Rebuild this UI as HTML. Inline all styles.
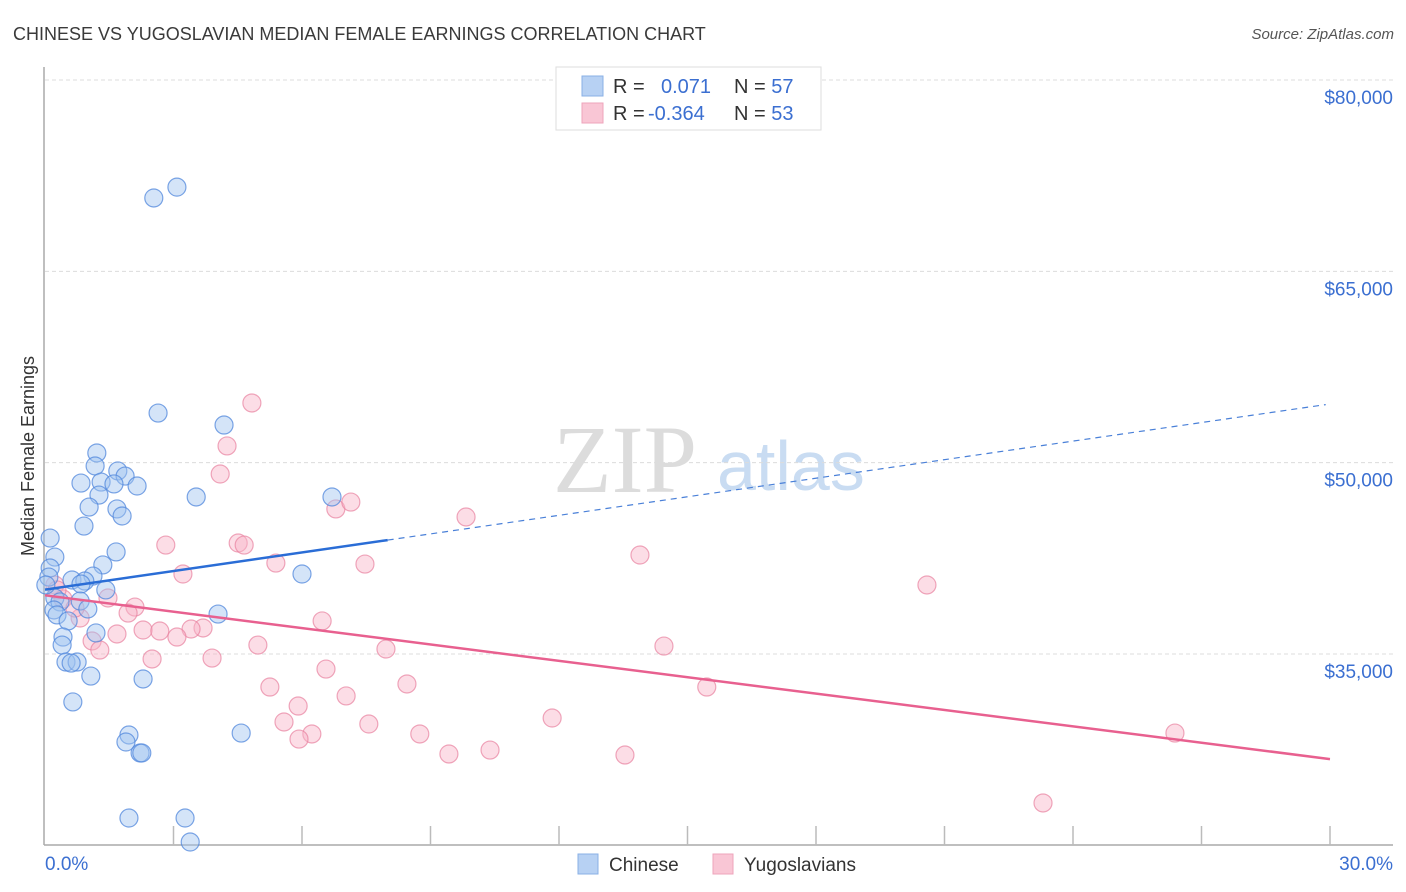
<!DOCTYPE html>
<html><head><meta charset="utf-8"><style>
body{margin:0;background:#fff;font-family:"Liberation Sans",sans-serif;}
svg{display:block}
</style></head><body>
<svg id="chart" width="1406" height="892" xmlns="http://www.w3.org/2000/svg">
<text x="13" y="40" font-size="18" fill="#3a3a3a">CHINESE VS YUGOSLAVIAN MEDIAN FEMALE EARNINGS CORRELATION CHART</text>
<text x="1394" y="39" font-size="15" fill="#555" font-style="italic" text-anchor="end">Source: ZipAtlas.com</text>
<g>
<text x="553" y="492" font-size="96" font-family="Liberation Serif, serif" fill="#dcdcdc">ZIP</text>
<text x="717" y="490" font-size="70" fill="#c9dcf2">atlas</text>
</g>
<g id="grid"></g>
<g id="axes"></g>
<g id="marks"></g>
<text transform="translate(34,456) rotate(-90)" font-size="18" fill="#333" text-anchor="middle">Median Female Earnings</text>
<g>
<rect x="556" y="67" width="265" height="63" fill="#fff" stroke="#ddd"/>
<rect x="582" y="76" width="21" height="20" fill="#b7d1f3" stroke="#8ab0e6"/>
<rect x="582" y="103" width="21" height="20" fill="#f9c6d5" stroke="#eea4bb"/>
<text x="613" y="93" font-size="20" fill="#333">R = <tspan x="661" fill="#3b6fd1">0.071</tspan><tspan x="734" fill="#333">N = </tspan><tspan fill="#3b6fd1">57</tspan></text>
<text x="613" y="120" font-size="20" fill="#333">R = <tspan x="648" fill="#3b6fd1">-0.364</tspan><tspan x="734" fill="#333">N = </tspan><tspan fill="#3b6fd1">53</tspan></text>
</g>
<g>
<rect x="578" y="854" width="20" height="20" fill="#b7d1f3" stroke="#8ab0e6"/>
<text x="609" y="871" font-size="19" fill="#333">Chinese</text>
<rect x="713" y="854" width="20" height="20" fill="#f9c6d5" stroke="#eea4bb"/>
<text x="744" y="871" font-size="19" fill="#333">Yugoslavians</text>
</g>
</svg>
<script>
const yTicks=[80000,65000,50000,35000];
const yTickLabels=["$80,000","$65,000","$50,000","$35,000"];
const xTickLabels=["0.0%","30.0%"];
const chineseX=[3.08,2.54,2.64,4.18,1.21,1.17,1.70,1.87,1.31,1.61,0.84,2.15,3.53,1.26,6.70,1.03,1.68,1.80,0.91,0.12,1.66,0.23,1.35,0.12,1.12,0.09,6.00,0.63,0.93,0.84,1.42,0.23,0.82,0.35,0.21,1.00,4.04,0.28,0.54,1.19,0.42,0.40,0.49,0.75,0.61,1.07,2.29,0.65,4.58,1.96,1.89,2.22,2.26,1.96,3.27,3.39,0.02];
const chineseY=[71600,70750,53890,52950,50760,49740,49350,48950,48480,48330,48400,48170,47310,47460,47310,46520,46370,45820,45030,44090,43000,42600,41980,41740,41110,41030,41270,40800,40720,40490,40020,39390,39150,39080,38450,38530,38130,38060,37590,36650,36330,35700,34370,34370,34290,33270,33040,31240,28800,28650,28100,27240,27240,22140,22140,20260,40410];
const yugoX=[4.83,4.25,4.09,9.83,6.79,7.14,2.82,4.51,4.65,13.89,7.47,5.39,3.22,20.59,0.23,0.42,1.47,2.10,1.94,0.82,6.47,3.69,3.41,2.29,2.68,1.68,3.08,1.10,1.28,4.97,7.96,2.50,3.90,14.45,6.56,8.45,5.25,15.45,7.03,5.91,11.84,5.58,7.56,8.75,6.23,5.93,26.38,10.39,9.43,13.54,23.30,0.28,0.70];
const yugoY=[54680,51310,49110,45740,46370,46910,43540,43700,43540,42760,42050,42130,41270,40410,40410,39310,39390,38680,38210,37820,37590,37040,36960,36880,36800,36570,36330,36020,35310,35700,35390,34610,34680,35620,33820,32650,32410,32410,31710,30920,29980,29670,29510,28730,28730,28330,28800,27470,27160,27080,23320,40020,38600];
const chineseTrend=[40050,485];
const yugoTrend=[39600,-428];
const chineseSolidEnd=8.0;

const NS="http://www.w3.org/2000/svg";
const X0=45,X1=1330,Y0=80;
function xs(p){return X0+(X1-X0)*p/30;}
function ys(v){return Y0+(80000-v)*191.33/15000;}
function mk(tag,attrs,parent){const e=document.createElementNS(NS,tag);for(const k in attrs)e.setAttribute(k,attrs[k]);parent.appendChild(e);return e;}
const grid=document.getElementById('grid'),axes=document.getElementById('axes'),marks=document.getElementById('marks');
yTicks.forEach((v,i)=>{
 const l=mk('line',{x1:45,x2:1393,y1:ys(v),y2:ys(v),stroke:'#dcdcdc','stroke-dasharray':'4,3'},grid);
 
 
 const t=mk('text',{x:1393,y:ys(v)+24,'font-size':19,fill:'#3b6fd1','text-anchor':'end'},grid);
 t.textContent=yTickLabels[i];
 
 
});
let a=mk('line',{x1:44,x2:44,y1:67,y2:845,stroke:'#aaa','stroke-width':1.5},axes);


a=mk('line',{x1:44,x2:1393,y1:845,y2:845,stroke:'#aaa','stroke-width':1.5},axes);


for(let i=1;i<=10;i++){
 const t=mk('line',{x1:xs(i*3),x2:xs(i*3),y1:826,y2:845,stroke:'#bbb','stroke-width':1.5},axes);
 
 
}
[[0,'start',45],[30,'end',1393]].forEach((d,i)=>{
 const t=mk('text',{x:d[2],y:870,'font-size':19,fill:'#3b6fd1','text-anchor':d[1]},axes);
 t.textContent=xTickLabels[i];
 
 
});
yugoX.forEach((x,i)=>{
 const c=mk('circle',{cx:xs(x),cy:ys(yugoY[i]),r:9,fill:'rgba(249,180,200,0.45)',stroke:'rgba(232,130,160,0.7)','stroke-width':1.2},marks);
 
 
});
chineseX.forEach((x,i)=>{
 const c=mk('circle',{cx:xs(x),cy:ys(chineseY[i]),r:9,fill:'rgba(160,195,240,0.45)',stroke:'rgba(80,135,220,0.75)','stroke-width':1.2},marks);
 
 
});
const cb=p=>chineseTrend[0]+chineseTrend[1]*p, yb=p=>yugoTrend[0]+yugoTrend[1]*p;
let L=mk('line',{x1:xs(0),y1:ys(cb(0)),x2:xs(chineseSolidEnd),y2:ys(cb(chineseSolidEnd)),stroke:'#2a6dd6','stroke-width':2.5},marks);


L=mk('line',{x1:xs(chineseSolidEnd),y1:ys(cb(chineseSolidEnd)),x2:xs(29.9),y2:ys(cb(29.9)),stroke:'#4a80d8','stroke-width':1.2,'stroke-dasharray':'6,5'},marks);


L=mk('line',{x1:xs(0),y1:ys(yb(0)),x2:xs(30),y2:ys(yb(30)),stroke:'#e8608f','stroke-width':2.5},marks);


</script>
</body></html>
